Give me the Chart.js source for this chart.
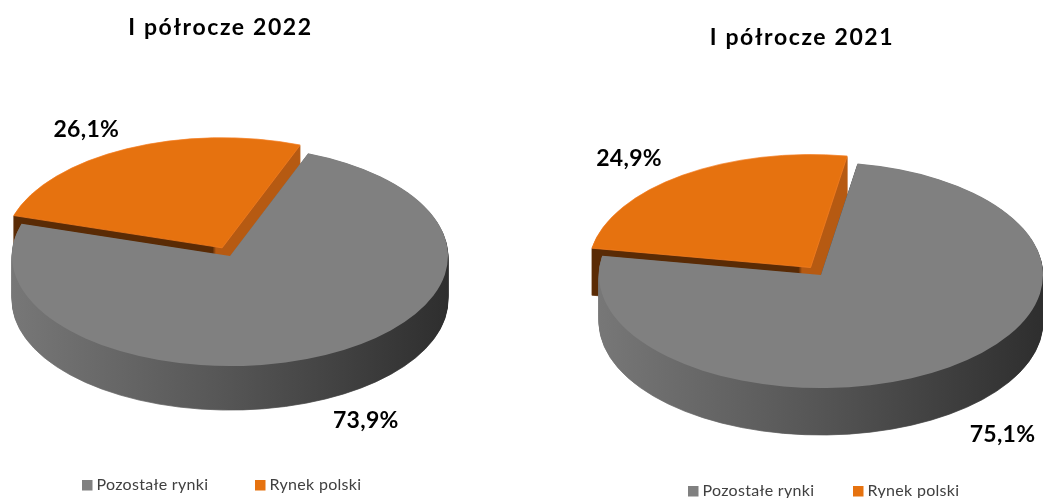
<!DOCTYPE html>
<html><head><meta charset="utf-8">
<script src="https://cdn.jsdelivr.net/npm/chart.js@4"></script>
<style>
html,body{margin:0;padding:0;background:#fff;overflow:hidden;width:1043px;height:498px;}
canvas{position:absolute;top:0;}
#c1{left:0;}
#c2{left:521px;}
</style></head><body>
<canvas id="c1" width="521" height="498"></canvas>
<canvas id="c2" width="522" height="498"></canvas>
<script>
// ---- data ----
const categories = ['Pozostałe rynki', 'Rynek polski'];
const values2022 = [73.9, 26.1];
const values2021 = [75.1, 24.9];
const chartTitles = ['I półrocze 2022', 'I półrocze 2021'];
const sliceColors = ['#808080', '#E6720F'];
const sliceBorders = ['#808080', '#F47E22'];
const sideColors = [['#777777', '#555555', '#2e2e2e'], ['#5A2B05', '#B65A12']];
const explodeOffset = [0, 72];

function fmt(v) { return v.toFixed(1).replace('.', ',') + '%'; }

const pie3d = {
  id: 'pie3d',
  beforeDatasetsDraw(chart, args, o) {
    const ctx = chart.ctx;
    const arcs = chart.getDatasetMeta(0).data;
    const a0 = arcs[0];
    const cx = a0.x, cy = a0.y, r = a0.outerRadius;
    const fills = arcs.map((arc, i) => {
      const g = ctx.createLinearGradient(cx - r, 0, cx + r, 0);
      const cols = o.sideColors[i];
      if ((arc.options.offset || 0) > 0) {
        const mid = (arc.startAngle + arc.endAngle) / 2;
        const vx = cx + Math.cos(mid) * arc.options.offset / 4;
        const f = Math.min(Math.max((vx - (cx - r)) / (2 * r), 0.02), 0.98);
        g.addColorStop(0, cols[0]); g.addColorStop(f - 0.004, cols[0]);
        g.addColorStop(f + 0.004, cols[1]); g.addColorStop(1, cols[1]);
      } else {
        cols.forEach((c, j) => g.addColorStop(j / (cols.length - 1), c));
      }
      return g;
    });
    for (let d = o.depth; d >= 1; d--) {
      ctx.save();
      ctx.translate(0, cy + d); ctx.scale(1, o.tilt); ctx.translate(0, -cy);
      arcs.forEach((arc, i) => {
        const fake = Object.create(arc);
        fake.options = Object.assign({}, arc.options, {backgroundColor: fills[i], borderColor: fills[i], borderWidth: 1});
        arc.draw.call(fake, ctx);
      });
      ctx.restore();
    }
    ctx.save();
    ctx.translate(0, cy); ctx.scale(1, o.tilt); ctx.translate(0, -cy);
  },
  afterDatasetsDraw(chart) {
    chart.ctx.restore();
  },
  afterDraw(chart, args, o) {
    const ctx = chart.ctx;
    const arcs = chart.getDatasetMeta(0).data;
    const a0 = arcs[0];
    const cx = a0.x, cy = a0.y, r = a0.outerRadius;
    const ds = chart.data.datasets[0];
    ctx.save();
    // value labels
    ctx.font = o.labelFont; ctx.fillStyle = '#000'; ctx.textAlign = 'center'; ctx.textBaseline = 'middle';
    ctx.letterSpacing = '0.3px';
    arcs.forEach((arc, i) => {
      const mid = (arc.startAngle + arc.endAngle) / 2;
      const ux = Math.cos(mid), uy = Math.sin(mid);
      const off = (arc.options.offset || 0) / 4;
      let px = cx + ux * (r + off);
      let py = cy + uy * (r + off) * o.tilt;
      if (uy > 0) py += o.depth + 3;
      px += ux * o.labelDx; py += uy * o.labelDy;
      ctx.fillText(fmt(ds.data[i]), px, py);
    });
    // title
    ctx.font = o.titleFont; ctx.textBaseline = 'alphabetic'; ctx.textAlign = 'center';
    ctx.letterSpacing = '1.6px';
    ctx.fillText(o.title, o.titleX, o.titleY);
    // legend
    ctx.font = o.legendFont; ctx.textAlign = 'left';
    ctx.letterSpacing = '0.3px';
    chart.data.labels.forEach((lab, i) => {
      const x = o.legendX[i];
      ctx.fillStyle = ds.backgroundColor[i];
      ctx.fillRect(x, o.legendY, 10.5, 10.5);
      ctx.fillStyle = '#404040';
      ctx.fillText(lab, x + 14.5, o.legendY + 9.5);
    });
    ctx.restore();
  }
};

function makePie(id, values, title, cfg) {
  return new Chart(document.getElementById(id), {
    type: 'pie',
    data: {
      labels: categories,
      datasets: [{
        data: values,
        backgroundColor: sliceColors,
        borderColor: sliceBorders,
        borderWidth: [0, 1],
        offset: explodeOffset,
        clip: false
      }]
    },
    options: {
      responsive: false,
      animation: false,
      events: [],
      radius: cfg.radius,
      rotation: cfg.rotation,
      layout: {padding: cfg.padding},
      plugins: {
        legend: {display: false},
        title: {display: false},
        tooltip: {enabled: false},
        pie3d: {
          tilt: cfg.tilt, depth: cfg.depth, sideColors: sideColors,
          labelDx: 92, labelDy: 21,
          labelFont: 'bold 23px Lato',
          title: title, titleX: cfg.titleX, titleY: cfg.titleY, titleFont: 'bold 23px Lato',
          legendX: cfg.legendX, legendY: cfg.legendY, legendFont: '16px Lato'
        }
      }
    },
    plugins: [pie3d]
  });
}

makePie('c1', values2022, chartTitles[0], {
  radius: 218, rotation: 21, tilt: 0.505, depth: 44,
  padding: {left: 0, right: 61, top: 14, bottom: 0},
  titleX: 220.5, titleY: 35, legendX: [82, 255], legendY: 480
});
makePie('c2', values2021, chartTitles[1], {
  radius: 222, rotation: 9.5, tilt: 0.509, depth: 47,
  padding: {left: 78, right: 0, top: 52, bottom: 0},
  titleX: 281, titleY: 45, legendX: [167, 332], legendY: 486
});
</script>
</body></html>
